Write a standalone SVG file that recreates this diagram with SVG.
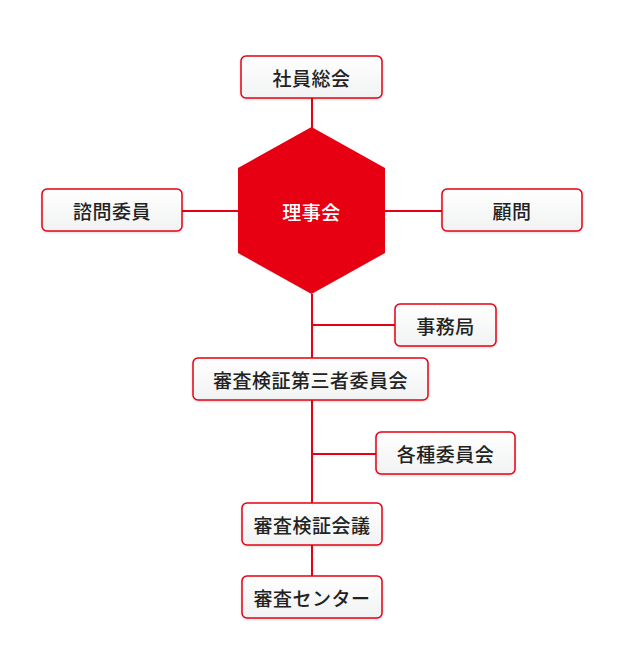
<svg xmlns="http://www.w3.org/2000/svg" width="624" height="672" viewBox="0 0 624 672">
<defs>
<linearGradient id="bg" x1="0" y1="0" x2="0" y2="1">
<stop offset="0" stop-color="#ffffff"/>
<stop offset="1" stop-color="#f1f2f2"/>
</linearGradient>
<filter id="sh" x="-10%" y="-20%" width="120%" height="150%">
<feDropShadow dx="0" dy="1" stdDeviation="1" flood-color="#000" flood-opacity="0.15"/>
</filter>
</defs>
<style>
.box{fill:url(#bg);stroke:#e60012;stroke-width:1.5;filter:url(#sh)}
.lbl{font-family:"Noto Sans CJK JP","Noto Sans",sans-serif;font-size:19px;font-weight:500;fill:#222;text-anchor:middle;dominant-baseline:central;letter-spacing:0.5px}
.con{stroke:#e60012;stroke-width:2;fill:none}
</style>
<rect width="624" height="672" fill="#fff"/>
<g id="connectors">
<line class="con" x1="312" y1="98" x2="312" y2="128"/>
<line class="con" x1="182" y1="211" x2="238" y2="211"/>
<line class="con" x1="385" y1="211" x2="442" y2="211"/>
<line class="con" x1="312" y1="294" x2="312" y2="358"/>
<line class="con" x1="312" y1="325" x2="395" y2="325"/>
<line class="con" x1="312" y1="400" x2="312" y2="503"/>
<line class="con" x1="312" y1="454" x2="376" y2="454"/>
<line class="con" x1="312" y1="545" x2="312" y2="576"/>
</g>
<g id="n-shainsoukai"><rect class="box" x="241" y="56" width="141" height="42" rx="5"/><text class="lbl" x="311.5" y="77">社員総会</text></g>
<g id="n-rijikai"><polygon points="311.5,127 385,168 385,253 311.5,294 238,253 238,168" fill="#e60012"/><text class="lbl" x="311.5" y="211" style="fill:#fff">理事会</text></g>
<g id="n-shimon"><rect class="box" x="42" y="189" width="140" height="42" rx="5"/><text class="lbl" x="112" y="210">諮問委員</text></g>
<g id="n-komon"><rect class="box" x="442" y="189" width="140" height="42" rx="5"/><text class="lbl" x="512" y="210">顧問</text></g>
<g id="n-jimukyoku"><rect class="box" x="395" y="304" width="101" height="42" rx="5"/><text class="lbl" x="445.5" y="325">事務局</text></g>
<g id="n-daisansha"><rect class="box" x="193" y="358" width="235" height="42" rx="5"/><text class="lbl" x="310.5" y="379">審査検証第三者委員会</text></g>
<g id="n-kakushu"><rect class="box" x="376" y="432" width="139" height="42" rx="5"/><text class="lbl" x="445.5" y="453">各種委員会</text></g>
<g id="n-kaigi"><rect class="box" x="242" y="503" width="140" height="42" rx="5"/><text class="lbl" x="312" y="524">審査検証会議</text></g>
<g id="n-center"><rect class="box" x="242" y="576" width="140" height="42" rx="5"/><text class="lbl" x="312" y="597">審査センター</text></g>
</svg>
